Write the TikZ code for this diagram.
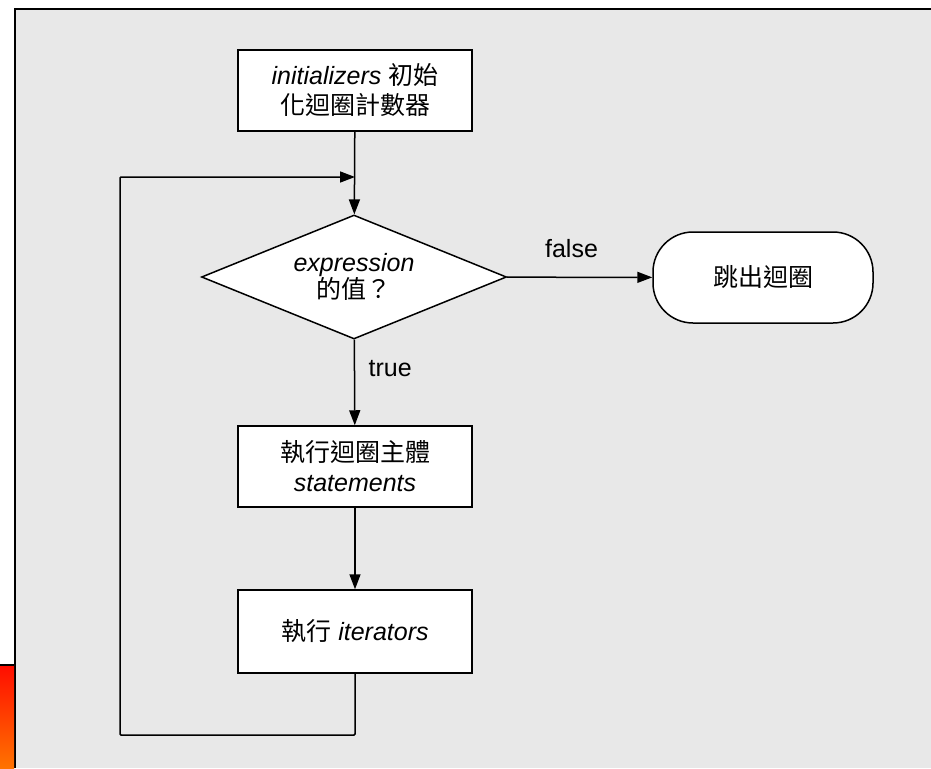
\documentclass[tikz,border=0pt]{standalone}
\usepackage{fontspec}
\setmainfont{Liberation Sans}
\newfontfamily\cjk{Noto Sans CJK TC}
\usetikzlibrary{shapes.geometric, arrows.meta}

\tikzset{
  flowtext/.style = {font = \fontsize{25}{30}\selectfont},
  flowbox/.style = {draw, fill = white, flowtext, minimum width = 234pt, minimum height = 81pt, align = center, inner sep = 0pt},
  flowtip/.style = {-{Triangle[length = 15pt, width = 11pt]}}
}

\begin{document}
\begin{tikzpicture}[x = 1pt, y = -1pt, line width = 1.5pt]
\useasboundingbox (0, 0) rectangle (931, 768);

\fill[white] (0, 0) rectangle (931, 768);
\fill[black!9] (15, 9) rectangle (931, 768);
\draw[line width = 2.5pt] (15, 768) -- (15, 9) -- (931, 9);
\shade[top color = red!90!orange, bottom color = orange!90!red] (0, 665) rectangle (14, 768);
\draw (0, 665) -- (14, 665);

\node[flowbox] (init) at (355, 90.5) {\textit{initializers} {\cjk 初始}\\{\cjk 化迴圈計數器}};

\node[draw, fill = white, flowtext, diamond, aspect = 2.46, minimum width = 305pt, minimum height = 124pt, inner sep = 0pt, align = center] (test) at (354, 277) {\textit{expression}\\[-3pt]{\cjk 的值？}};

\node[draw, fill = white, flowtext, rounded corners = 40pt, minimum width = 220pt, minimum height = 91pt] (exit) at (763, 277.5) {\cjk 跳出迴圈};

\node[flowbox] (body) at (355, 466.5) {{\cjk 執行迴圈主體}\\\textit{statements}};

\node[flowbox, minimum height = 83pt] (iter) at (355, 631.5) {{\cjk 執行} \textit{iterators}};

\coordinate (back) at (120, 735);
\coordinate (loopin) at (355, 177);

\draw[flowtip] (init) -- (test);
\draw[flowtip] (test) -- node[flowtext, above, yshift = 15pt, xshift = -8pt] {false} (exit);
\draw[flowtip] (test) -- node[flowtext, right, xshift = 10pt, yshift = 14pt] {true} (body);
\draw[flowtip] (body) -- (iter);
\draw[flowtip, rounded corners = 1pt] (iter.south) |- (back) |- (loopin);

\end{tikzpicture}
\end{document}
